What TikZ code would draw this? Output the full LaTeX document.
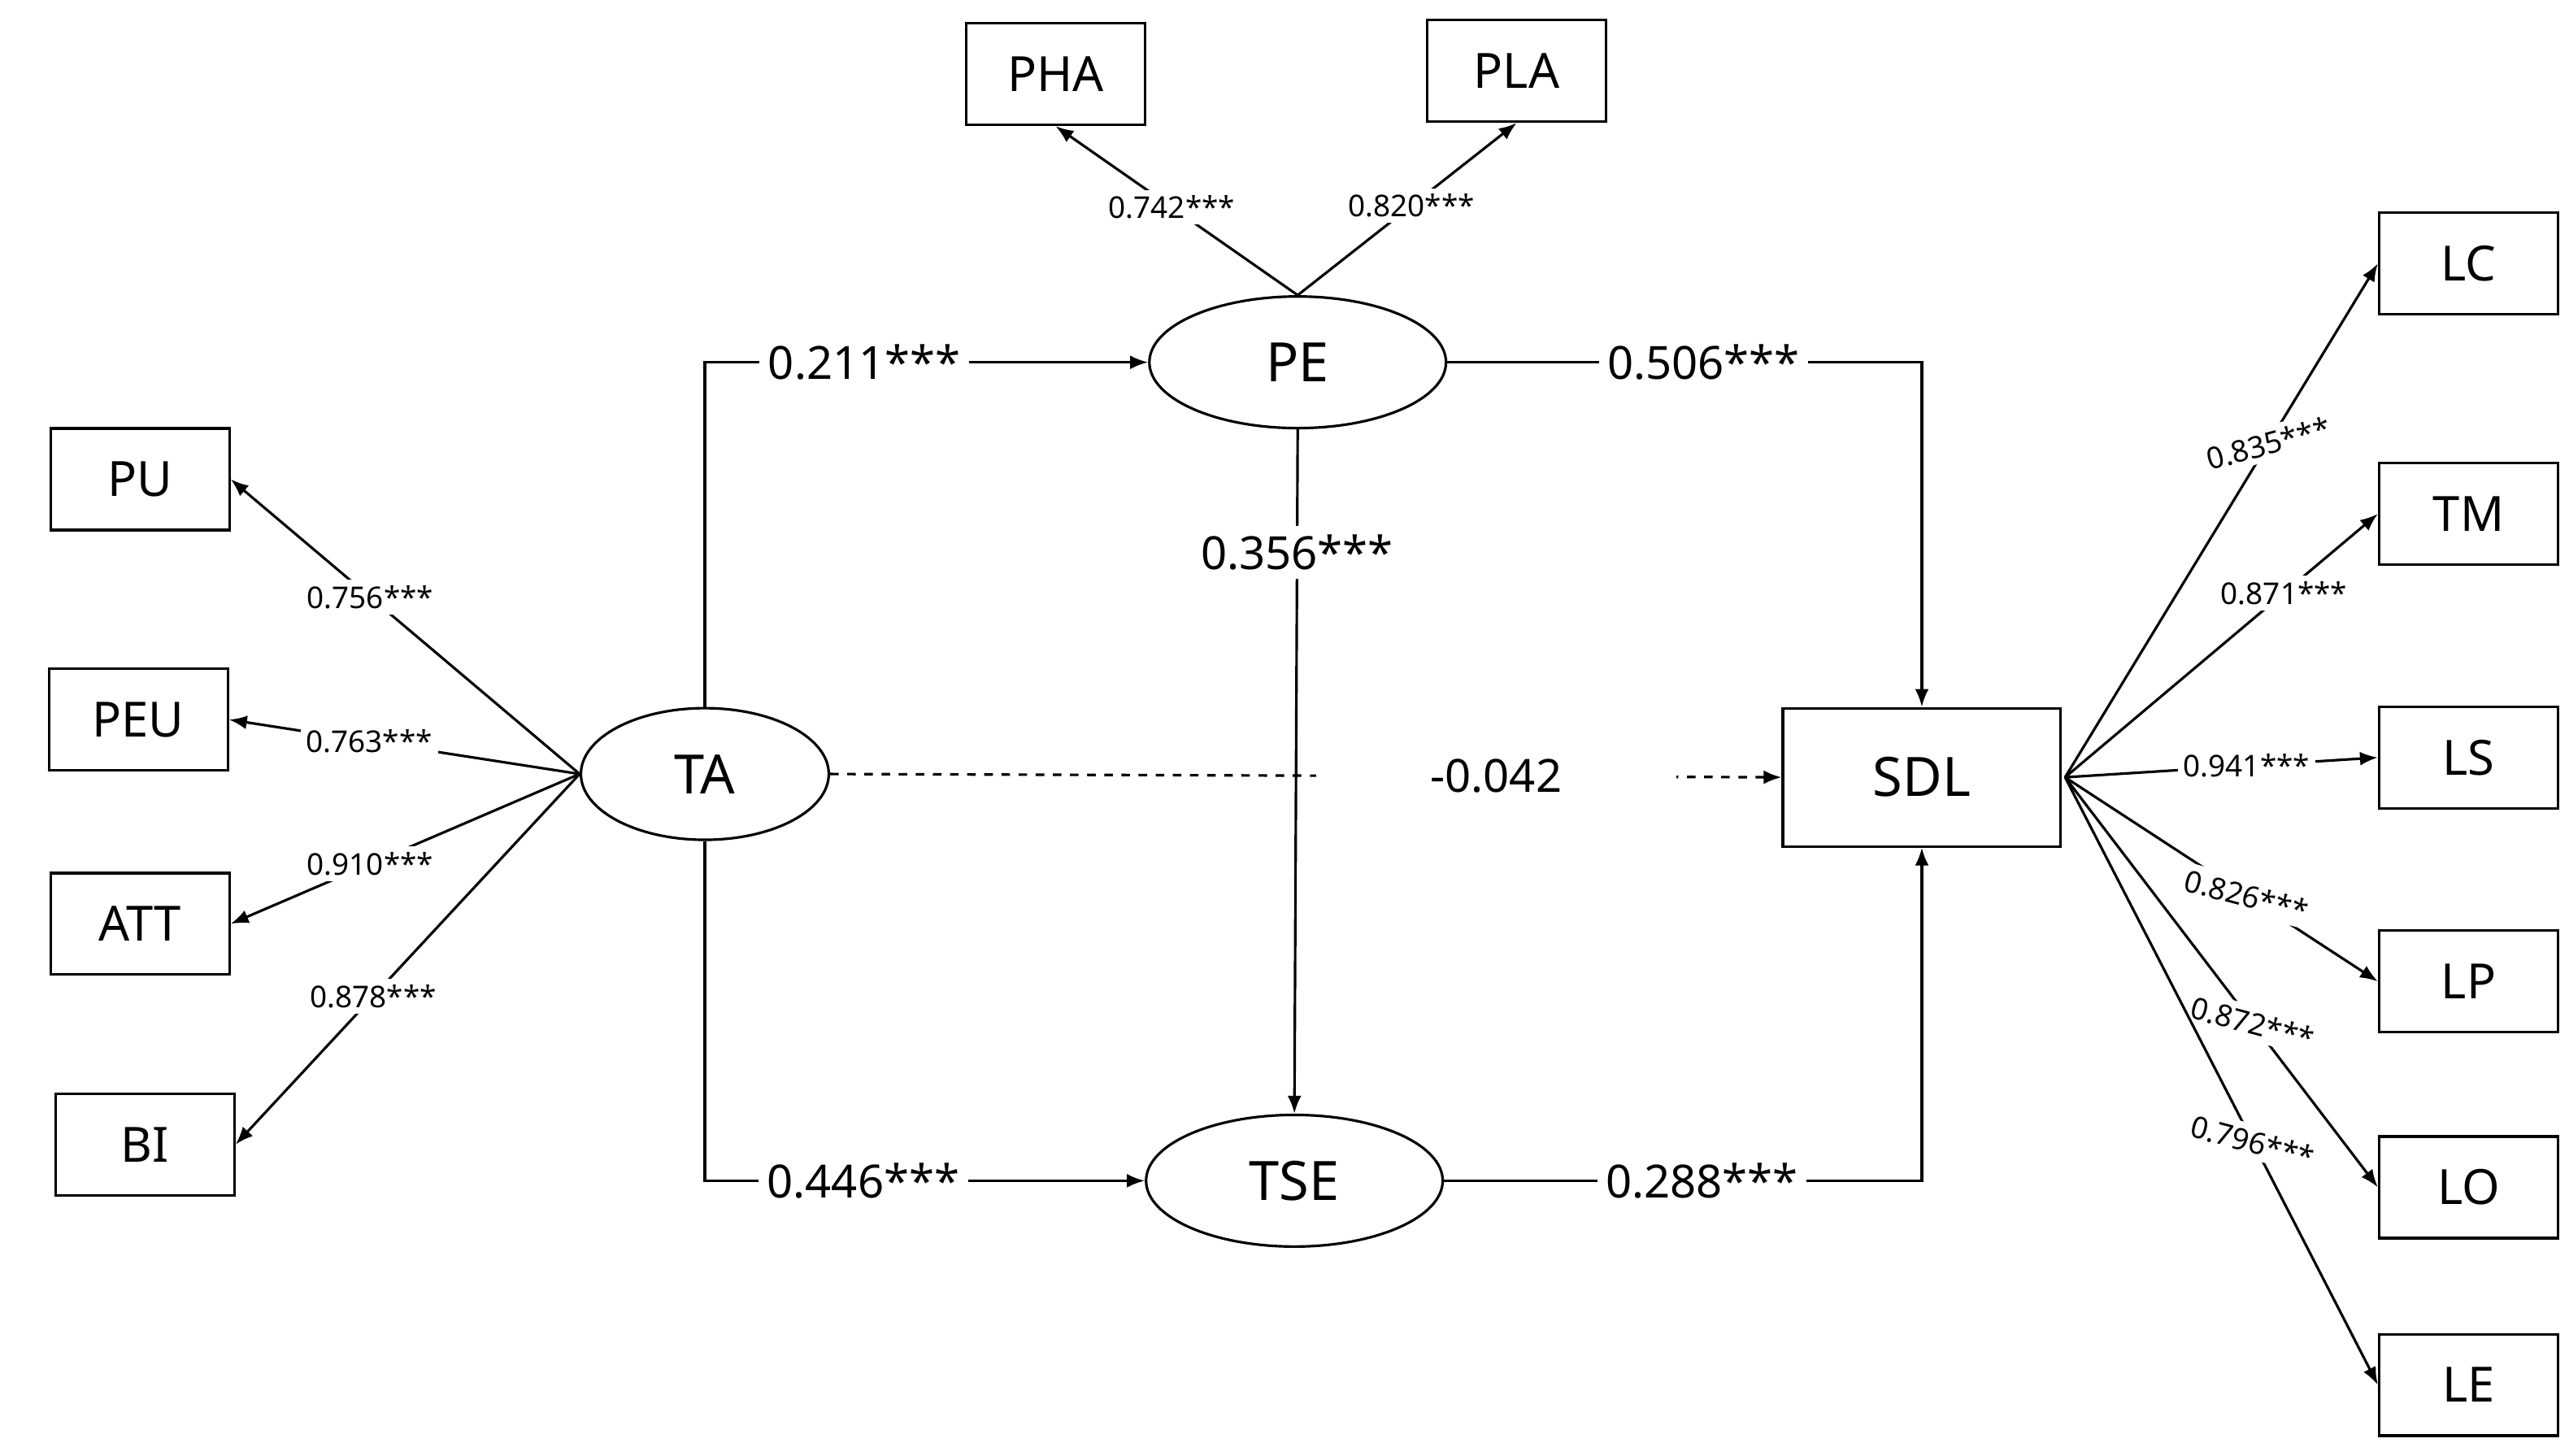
\documentclass[tikz,border=0pt]{standalone}
\usepackage{fontspec}
\setmainfont{Noto Sans}
\usetikzlibrary{arrows.meta,positioning,shapes.geometric}

\begin{document}
\begin{tikzpicture}[
    x=0.02026cm, y=-0.02026cm,
    line width=0.9pt,
    box/.style={draw, rectangle, minimum width=2.2cm, minimum height=1.25cm, font=\fontsize{17}{20}\selectfont},
    latent/.style={draw, ellipse, minimum width=3.65cm, minimum height=1.62cm, font=\fontsize{19}{22}\selectfont},
    path lbl/.style={fill=white, inner sep=3pt, font=\fontsize{16}{19}\selectfont},
    load lbl/.style={fill=white, inner sep=2pt, font=\fontsize{10.5}{12}\selectfont},
    arr/.style={-{Latex[length=2.2mm,width=1.7mm]}},
]
\useasboundingbox (0,0) rectangle (1560,884);

% latent constructs
\node[latent] (pe) at (788,220) {PE};
\node[latent, minimum width=3.05cm] (ta) at (428,470) {TA};
\node[latent] (tse) at (786,717) {TSE};
\node[box, minimum width=3.42cm, minimum height=1.7cm, font=\fontsize{19}{22}\selectfont] (sdl) at (1167,472) {SDL};

% indicators
\node[box] (pha) at (641,45) {PHA};
\node[box] (pla) at (921,43) {PLA};
\node[box] (pu) at (85,291) {PU};
\node[box] (peu) at (84,437) {PEU};
\node[box] (att) at (85,561) {ATT};
\node[box] (bi) at (88,695) {BI};
\node[box] (lc) at (1499,160) {LC};
\node[box] (tm) at (1499,312) {TM};
\node[box] (ls) at (1499,460) {LS};
\node[box] (lp) at (1499,596) {LP};
\node[box] (lo) at (1499,721) {LO};
\node[box] (le) at (1499,841) {LE};

% loadings of PE
\draw[arr] (pe.north) -- node[load lbl, pos=0.52] {0.742***} (pha.south);
\draw[arr] (pe.north) -- node[load lbl, pos=0.52] {0.820***} (pla.south);

% loadings of TA
\draw[arr] (ta.west) -- node[load lbl, pos=0.6] {0.756***} (pu.east);
\draw[arr] (ta.west) -- node[load lbl, pos=0.6] {0.763***} (peu.east);
\draw[arr] (ta.west) -- node[load lbl, pos=0.6] {0.910***} (att.east);
\draw[arr] (ta.west) -- node[load lbl, pos=0.6] {0.878***} (bi.east);

% loadings of SDL
\coordinate (sdle) at (1254,472);
\draw[arr] (sdle) -- node[load lbl, pos=0.65, rotate=15] {0.835***} (lc.west);
\draw[arr] (sdle) -- node[load lbl, pos=0.7] {0.871***} (tm.west);
\draw[arr] (sdle) -- node[load lbl, pos=0.58] {0.941***} (ls.west);
\draw[arr] (sdle) -- node[load lbl, pos=0.58, rotate=-15] {0.826***} (lp.west);
\draw[arr] (sdle) -- node[load lbl, pos=0.6, rotate=-15] {0.872***} (lo.west);
\draw[arr] (sdle) -- node[load lbl, pos=0.6, rotate=-15] {0.796***} (le.west);

% structural paths
\draw[arr] (ta.north) |- node[path lbl, pos=0.68] {0.211***} (pe.west);
\draw[arr] (ta.south) |- node[path lbl, pos=0.68] {0.446***} (tse.west);
\draw[arr] (pe.east) -| node[path lbl, pos=0.27] {0.506***} (sdl.north);
\draw[arr] (tse.east) -| node[path lbl, pos=0.27] {0.288***} (sdl.south);
\draw[arr] (pe.south) -- node[path lbl, pos=0.18] {0.356***} (tse.north);
\draw[arr, dashed] (ta.east) -- node[path lbl, pos=0.7, inner xsep=40pt] {-0.042} (sdl.west);
\end{tikzpicture}
\end{document}
